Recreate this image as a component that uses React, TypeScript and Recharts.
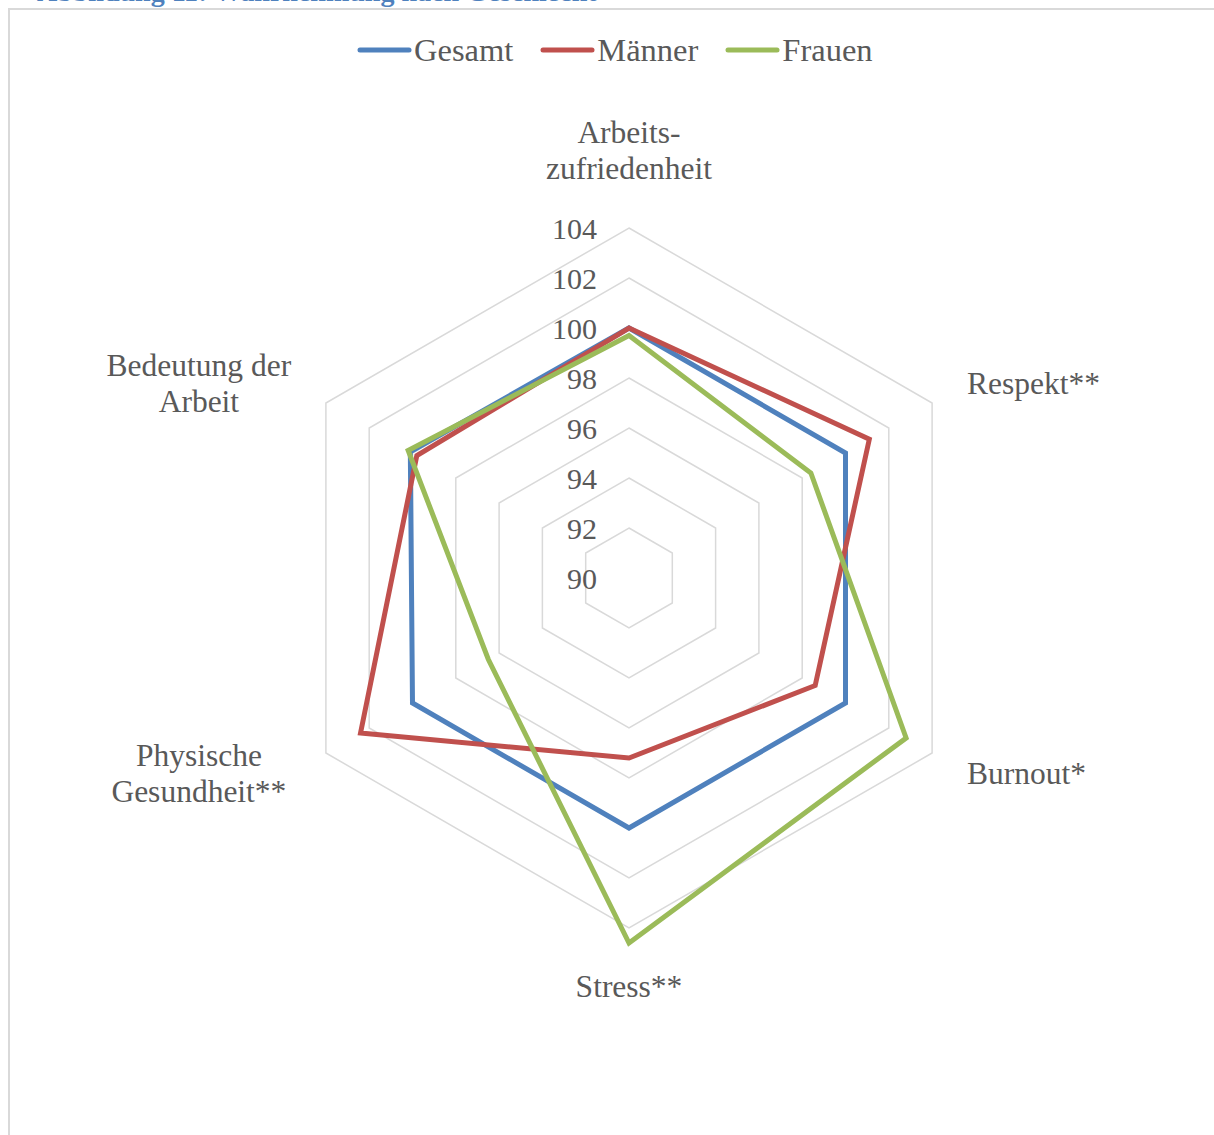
import { PolarAngleAxis, PolarGrid, PolarRadiusAxis, Radar, RadarChart } from "recharts";

const categories = [
  "Arbeitszufriedenheit",
  "Respekt**",
  "Burnout*",
  "Stress**",
  "Physische Gesundheit**",
  "Bedeutung der Arbeit"
];

// how each category label wraps in the picture
const categoryLines = [
  ["Arbeits-", "zufriedenheit"],
  ["Respekt**"],
  ["Burnout*"],
  ["Stress**"],
  ["Physische", "Gesundheit**"],
  ["Bedeutung der", "Arbeit"]
];

const gesamt = [100.0, 100.0, 100.0, 100.0, 100.0, 100.1];
const maenner = [100.0, 101.1, 98.6, 97.2, 102.4, 99.8];
const frauen = [99.7, 98.4, 102.8, 104.6, 96.5, 100.2];

const radiusTicks = [90, 92, 94, 96, 98, 100, 102, 104];

const series = [
  { key: "gesamt", name: "Gesamt", color: "#4f81bd" },
  { key: "maenner", name: "Männer", color: "#c0504d" },
  { key: "frauen", name: "Frauen", color: "#9bbb59" }
];

const data = categories.map((name, i) => ({
  name,
  gesamt: gesamt[i],
  maenner: maenner[i],
  frauen: frauen[i]
}));

const CX = 629;
const CY = 578;
const R = 350;
const FONT = "'Liberation Serif', 'Times New Roman', serif";
const TEXT = "#595959";

function AngleTick(props: any) {
  const { x, y, payload } = props;
  const idx = categories.indexOf(payload.value);
  const lines = categoryLines[idx] ?? [String(payload.value)];
  const dx = x - CX;
  const dy = y - CY;
  const len = Math.hypot(dx, dy) || 1;
  const ux = dx / len;
  const uy = dy / len;
  const vx = CX + ux * R;
  const vy = CY + uy * R;
  const lh = 36;
  let tx = vx;
  let cy = vy;
  let anchor: "middle" | "start" | "end" = "middle";

  if (Math.abs(ux) < 0.01) {
    if (uy < 0) cy = vy - 60 - ((lines.length - 1) * lh) / 2;
    else cy = vy + 58 + ((lines.length - 1) * lh) / 2;
  } else if (ux > 0) {
    anchor = "start";
    tx = vx + 35;
    cy = vy + uy * 40;
  } else {
    tx = vx - 127;
    cy = vy + uy * 40;
  }

  return (
    <text fill={TEXT} fontFamily={FONT} fontSize={31.5} textAnchor={anchor}>
      {lines.map((line, i) => (
        <tspan key={i} x={tx} y={cy + (i - (lines.length - 1) / 2) * lh} dominantBaseline="central">
          {line}
        </tspan>
      ))}
    </text>
  );
}

function RadiusTick(props: any) {
  const { x, y, payload } = props;
  return (
    <text x={x - 32} y={y} dominantBaseline="central" fill={TEXT} fontFamily={FONT} fontSize={30} textAnchor="end">
      {payload.value}
    </text>
  );
}

function LegendRow() {
  return (
    <div style={{ position: "absolute", left: 356, top: 30, display: "flex", alignItems: "center", fontFamily: FONT, fontSize: 32.5, color: TEXT, lineHeight: "40px" }}>
      {series.map((s, i) => (
        <div key={s.key} style={{ display: "flex", alignItems: "center", marginLeft: i === 0 ? 0 : 26 }}>
          <svg width={57} height={8} style={{ marginRight: 1 }}>
            <line x1={4} y1={4} x2={53} y2={4} stroke={s.color} strokeWidth={5} strokeLinecap="round" />
          </svg>
          <span>{s.name}</span>
        </div>
      ))}
    </div>
  );
}

export default function App() {
  return (
    <div style={{ position: "absolute", left: 0, top: 0, width: 1214, height: 1135, overflow: "hidden", background: "#fff" }}>
      <div style={{ position: "absolute", left: 37, top: -22, fontFamily: FONT, fontSize: 28, lineHeight: "28px", fontWeight: 700, color: "#4f81bd", whiteSpace: "nowrap" }}>
        Abbildung 11: Wahrnehmung nach Geschlecht
      </div>
      <div style={{ position: "absolute", left: 8, top: 8, width: 1400, height: 1400, borderLeft: "2px solid #d9d9d9", borderTop: "2px solid #d9d9d9" }} />
      <LegendRow />
      <div style={{ position: "absolute", left: 0, top: 0 }}>
        <RadarChart width={1214} height={1135} data={data} cx={CX} cy={CY} outerRadius={R} margin={{ top: 0, right: 0, bottom: 0, left: 0 }}>
          <PolarGrid gridType="polygon" radialLines={false} stroke="#d9d9d9" strokeWidth={1.5} />
          <PolarAngleAxis dataKey="name" tick={<AngleTick />} tickLine={false} axisLine={false} />
          <PolarRadiusAxis angle={90} domain={[90, 104]} ticks={radiusTicks} allowDataOverflow tick={<RadiusTick />} axisLine={false} tickLine={false} />
          {series.map((s) => (
            <Radar
              key={s.key}
              dataKey={s.key}
              name={s.name}
              stroke={s.color}
              strokeWidth={5}
              strokeLinejoin="miter"
              fill="none"
              fillOpacity={0}
              dot={false}
              isAnimationActive={false}
            />
          ))}
        </RadarChart>
      </div>
    </div>
  );
}
